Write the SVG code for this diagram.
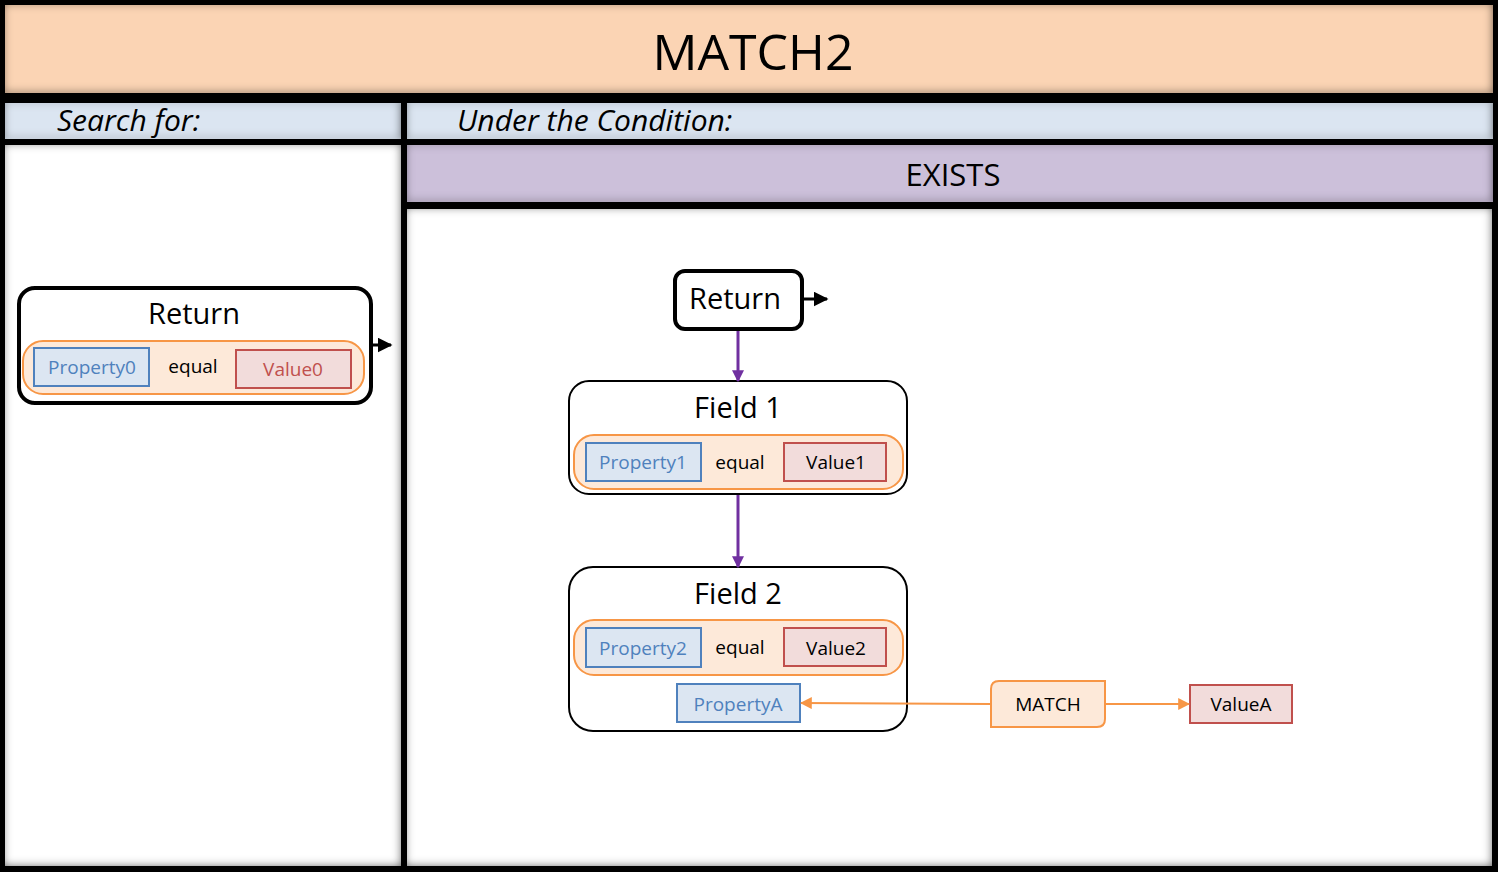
<svg xmlns="http://www.w3.org/2000/svg" width="1498" height="872" viewBox="0 0 1498 872">
<style>
text{font-family:"Open Sans","Noto Sans","Liberation Sans",sans-serif;}
.h{font-size:30px;font-style:italic;fill:#000}
.big{font-size:29px;fill:#000;text-anchor:middle}
.sm{font-size:19px;text-anchor:middle}
.prop{fill:#DCE6F2;stroke:#4F81BD;stroke-width:2}
.val{fill:#F2DCDB;stroke:#C0504D;stroke-width:2}
.pill{fill:#FDE9D9;stroke:#F79646;stroke-width:2}
.pt{fill:#4F81BD}
.vt{fill:#000}
.field{fill:#fff;stroke:#000;stroke-width:2}
</style>
<defs>
<filter id="inset" x="-5%" y="-5%" width="110%" height="110%">
<feFlood flood-color="#000" flood-opacity="0.9"/>
<feComposite in2="SourceAlpha" operator="out"/>
<feGaussianBlur stdDeviation="4"/>
<feOffset dx="-1" dy="-1"/>
<feComposite in2="SourceAlpha" operator="in" result="sh"/>
<feMerge><feMergeNode in="SourceGraphic"/><feMergeNode in="sh"/></feMerge>
</filter>
<marker id="ab" viewBox="0 0 10 10" refX="9" refY="5" markerWidth="5" markerHeight="5" orient="auto" markerUnits="strokeWidth"><path d="M0,0L10,5L0,10z" fill="#000"/></marker>
<marker id="ap" viewBox="0 0 10 10" refX="9" refY="5" markerWidth="4" markerHeight="4" orient="auto" markerUnits="strokeWidth"><path d="M0,0L10,5L0,10z" fill="#7030A0"/></marker>
<marker id="ao" viewBox="0 0 10 10" refX="9" refY="5" markerWidth="6" markerHeight="6" orient="auto" markerUnits="strokeWidth"><path d="M0,0L10,5L0,10z" fill="#F79646"/></marker>
</defs>
<rect x="0" y="0" width="1498" height="872" fill="#000"/>
<g id="panels">
<rect x="5" y="5" width="1488" height="88" fill="#FBD4B4" filter="url(#inset)"/>
<rect x="5" y="103" width="396" height="36" fill="#DBE5F1" filter="url(#inset)"/>
<rect x="407" y="103" width="1086" height="36" fill="#DBE5F1" filter="url(#inset)"/>
<rect x="5" y="145" width="396" height="721" fill="#fff" filter="url(#inset)"/>
<rect x="407" y="145" width="1086" height="57" fill="#CCC0DA" filter="url(#inset)"/>
<rect x="407" y="209" width="1085" height="657" fill="#fff" filter="url(#inset)"/>
<text x="753" y="70" style="font-size:50px;text-anchor:middle">MATCH2</text>
<text x="57" y="131" class="h">Search for:</text>
<text x="457" y="131" class="h">Under the Condition:</text>
<text x="953" y="186" style="font-size:31px;text-anchor:middle">EXISTS</text>
</g>
<g id="return0">
<rect x="19" y="288" width="352" height="115" rx="16" fill="#fff" stroke="#000" stroke-width="4"/>
<text x="194" y="324" class="big">Return</text>
<rect x="23" y="341" width="341" height="53" rx="20" class="pill"/>
<rect x="34" y="348" width="115" height="38" class="prop"/>
<text x="92" y="374" class="sm pt">Property0</text>
<text x="193" y="373" class="sm vt">equal</text>
<rect x="236" y="350" width="115" height="38" class="val"/>
<text x="293" y="376" class="sm" fill="#C0504D">Value0</text>
</g>
<g id="return1">
<rect x="675" y="271" width="127" height="58" rx="10" fill="#fff" stroke="#000" stroke-width="4"/>
<text x="735" y="309" class="big">Return</text>
</g>
<g id="field1">
<rect x="569" y="381" width="338" height="113" rx="20" class="field"/>
<text x="738" y="418" class="big">Field 1</text>
<rect x="574" y="435" width="329" height="54" rx="20" class="pill"/>
<rect x="586" y="443" width="115" height="38" class="prop"/>
<text x="643" y="469" class="sm pt">Property1</text>
<text x="740" y="469" class="sm vt">equal</text>
<rect x="784" y="443" width="102" height="38" class="val"/>
<text x="836" y="469" class="sm vt">Value1</text>
</g>
<g id="field2">
<rect x="569" y="567" width="338" height="164" rx="24" class="field"/>
<text x="738" y="604" class="big">Field 2</text>
<rect x="574" y="620" width="329" height="55" rx="20" class="pill"/>
<rect x="586" y="628" width="115" height="39" class="prop"/>
<text x="643" y="655" class="sm pt">Property2</text>
<text x="740" y="654" class="sm vt">equal</text>
<rect x="784" y="628" width="102" height="38" class="val"/>
<text x="836" y="655" class="sm vt">Value2</text>
<rect x="677" y="684" width="123" height="38" class="prop"/>
<text x="738" y="711" class="sm pt">PropertyA</text>
</g>
<g id="match">
<path d="M999,681H1105V719Q1105,727 1097,727H991V689Q991,681 999,681Z" class="pill"/>
<text x="1048" y="711" class="sm vt">MATCH</text>
</g>
<g id="valueA">
<rect x="1190" y="685" width="102" height="38" class="val"/>
<text x="1241" y="711" class="sm vt">ValueA</text>
</g>
<g id="connectors">
<line x1="371" y1="345" x2="391" y2="345" stroke="#000" stroke-width="3" marker-end="url(#ab)"/>
<line x1="802" y1="299" x2="827" y2="299" stroke="#000" stroke-width="3" marker-end="url(#ab)"/>
<line x1="738" y1="331" x2="738" y2="381" stroke="#7030A0" stroke-width="3" marker-end="url(#ap)"/>
<line x1="738" y1="495" x2="738" y2="567" stroke="#7030A0" stroke-width="3" marker-end="url(#ap)"/>
<line x1="990" y1="704" x2="801" y2="703" stroke="#F79646" stroke-width="2" marker-end="url(#ao)"/>
<line x1="1106" y1="704" x2="1189" y2="704" stroke="#F79646" stroke-width="2" marker-end="url(#ao)"/>
</g>
</svg>
